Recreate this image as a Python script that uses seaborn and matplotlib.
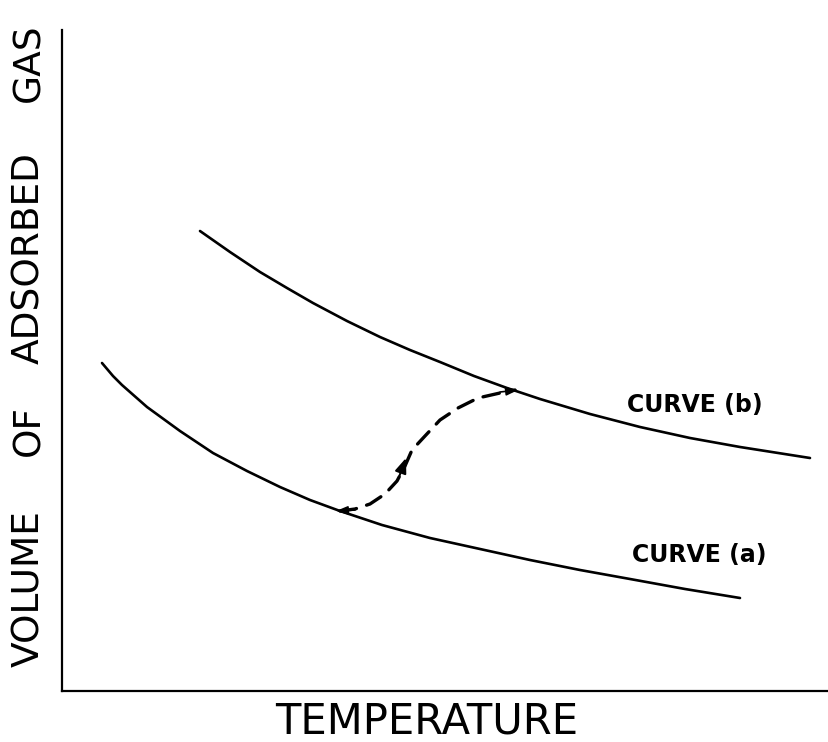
import matplotlib
matplotlib.use("Agg")
import matplotlib.pyplot as plt
import seaborn as sns
import pandas as pd

# Values (arbitrary units: temperature, volume)
curve_b_x = [138, 168, 198, 225, 251, 285, 318, 348, 378, 412, 445, 478, 528, 578, 628, 678, 748]
curve_b_y = [460, 439, 419, 403, 388, 370, 354, 341, 329, 315, 303, 292, 277, 264, 253, 244, 233]

curve_a_x = [40, 51, 60, 85, 118, 151, 185, 218, 248, 278, 320, 368, 418, 468, 518, 568, 623, 678]
curve_a_y = [328, 315, 306, 284, 260, 238, 220, 204, 191, 180, 166, 153, 142, 131, 121, 112, 102, 93]

trans_x = [278, 293, 308, 323, 335, 343, 350, 363, 378, 396, 416, 438, 453]
trans_y = [180, 182, 187, 197, 210, 225, 241, 255, 271, 283, 293, 298, 301]

label_b = "CURVE (b)"
label_a = "CURVE (a)"
x_title = "TEMPERATURE"
y_words = ["VOLUME", "OF", "ADSORBED", "GAS"]

sns.set_style("white")
plt.rcParams['font.family'] = ['DejaVu Sans']
plt.rcParams['text.color'] = 'black'

fig = plt.figure(figsize=(8.29, 7.42), dpi=100)
ax = fig.add_axes([62/829, 1 - 691/742, 1 - 62/829, (691 - 30)/742])

df_b = pd.DataFrame({"T": curve_b_x, "V": curve_b_y})
df_a = pd.DataFrame({"T": curve_a_x, "V": curve_a_y})
df_t = pd.DataFrame({"T": trans_x, "V": trans_y})

sns.lineplot(data=df_b, x="T", y="V", ax=ax, color="black", lw=1.9, sort=False)
sns.lineplot(data=df_a, x="T", y="V", ax=ax, color="black", lw=1.9, sort=False)
sns.lineplot(data=df_t, x="T", y="V", ax=ax, color="black", lw=2.4, sort=False)
for ln in ax.lines:
    ln.set_solid_joinstyle("round")
ax.lines[-1].set_dashes([5.0, 3.2])
ax.lines[-1].set_dash_capstyle("round")

# arrowheads
ap = dict(arrowstyle="-|>,head_length=0.9,head_width=0.35", color="black", lw=1.5,
          shrinkA=0, shrinkB=0)
ax.annotate("", xy=(trans_x[5] + 1, trans_y[5] + 8), xytext=(trans_x[4] + 2, trans_y[4] + 4),
            arrowprops=ap)
small = dict(arrowstyle="-|>,head_length=0.7,head_width=0.25", color="black",
             lw=1.2, shrinkA=0, shrinkB=0)
ax.annotate("", xy=(trans_x[0] - 4, trans_y[0]), xytext=(trans_x[1], trans_y[1] - 1),
            arrowprops=small)
ax.annotate("", xy=(trans_x[-1] + 3, trans_y[-1]), xytext=(trans_x[-2], trans_y[-2] + 1),
            arrowprops=small)

ax.text(633, 286, label_b, ha="center", va="center", fontsize=17, fontweight="bold")
ax.text(637, 136, label_a, ha="center", va="center", fontsize=17, fontweight="bold")

ax.set_xlim(0, 767)
ax.set_ylim(0, 661)
ax.set_xticks([])
ax.set_yticks([])
ax.set_xlabel("")
ax.set_ylabel("")
for s in ["top", "right"]:
    ax.spines[s].set_visible(False)
for s in ["left", "bottom"]:
    ax.spines[s].set_color("black")
    ax.spines[s].set_linewidth(1.6)

# y title, word by word (wide word spacing as in the reference)
word_centres_px = [589, 431, 258, 63]
for w, cy in zip(y_words, word_centres_px):
    fig.text(29/829, 1 - cy/742, w, rotation=90, ha="center", va="center",
             fontsize=27)
fig.text(427/829, 1 - 721/742, x_title, ha="center", va="center", fontsize=30)

fig.savefig("out.png", dpi=100)
